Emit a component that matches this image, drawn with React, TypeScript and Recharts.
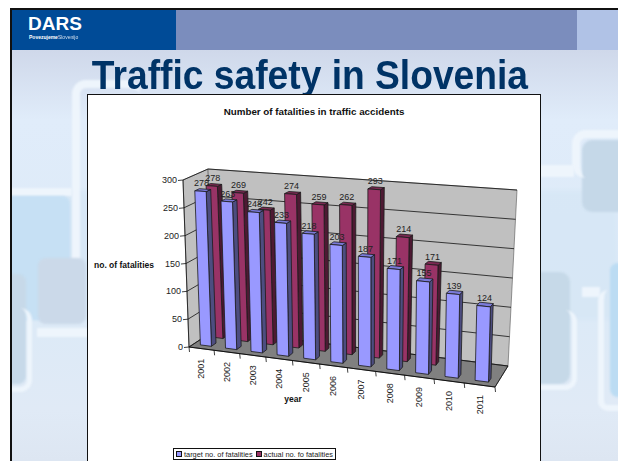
import { Bar, ComposedChart, Customized, LabelList, Legend, XAxis, YAxis } from "recharts";

const years = ["2001", "2002", "2003", "2004", "2005", "2006", "2007", "2008", "2009", "2010", "2011"];
const targetFatalities = [278, 263, 248, 233, 218, 203, 187, 171, 155, 139, 124];
const actualFatalities: (number | null)[] = [278, 269, 242, 274, 259, 262, 293, 214, 171, null, null];
const yTicks = [0, 50, 100, 150, 200, 250, 300];

const data = years.map((year, i) => ({
  year,
  target: targetFatalities[i],
  actual: actualFatalities[i],
}));

const FONT = "'Liberation Sans', Arial, sans-serif";
const TEXT = "#222";

// flat plot rect handed to recharts, its scales get remapped onto the 3D box
const PLOT_LEFT = 100;
const PLOT_TOP = 100;
const PLOT_W = 440;
const PLOT_H = 300;
const PLOT_BOTTOM = PLOT_TOP + PLOT_H;
const BAR_SIZE = 17.6;
const Y_MAX = 300;

type Pt = [number, number];

// corners: front-left, front-right, back-right, back-left
const FLOOR: Pt[] = [[189, 347], [495, 387], [508, 366], [215, 330]];
const CEIL: Pt[] = [[183, 180], [499, 203], [517, 190], [208, 169]];

const homography = (q: Pt[]) => {
  const [[x0, y0], [x1, y1], [x2, y2], [x3, y3]] = q;
  const dx1 = x1 - x2, dx2 = x3 - x2, sx = x0 - x1 + x2 - x3;
  const dy1 = y1 - y2, dy2 = y3 - y2, sy = y0 - y1 + y2 - y3;
  const den = dx1 * dy2 - dx2 * dy1;
  const g = (sx * dy2 - dx2 * sy) / den;
  const h = (dx1 * sy - sx * dy1) / den;
  const a = x1 - x0 + g * x1, b = x3 - x0 + h * x3;
  const d = y1 - y0 + g * y1, e = y3 - y0 + h * y3;
  return (u: number, v: number): Pt => {
    const w = g * u + h * v + 1;
    return [(a * u + b * v + x0) / w, (d * u + e * v + y0) / w];
  };
};

const floorAt = homography(FLOOR);
const ceilAt = homography(CEIL);

const project = (u: number, v: number, t: number): Pt => {
  const f = floorAt(u, v);
  const c = ceilAt(u, v);
  return [f[0] + (c[0] - f[0]) * t, f[1] + (c[1] - f[1]) * t];
};

// chart pixel -> screen pixel
const fromPlot = (px: number, py: number, v: number) =>
  project((px - PLOT_LEFT) / PLOT_W, v, (PLOT_BOTTOM - py) / PLOT_H);

const pts = (list: Pt[]) => list.map((p) => `${p[0].toFixed(1)},${p[1].toFixed(1)}`).join(" ");

const makeBarShape = (v0: number, v1: number, front: string, side: string, top: string) =>
  (props: any) => {
    const { x, y, width, height } = props;
    if (!height || height <= 0) return <g />;
    const x1 = x + width;
    const yb = y + height;
    const stroke = { stroke: "#1a1a1a", strokeWidth: 0.8, strokeLinejoin: "round" as const };
    return (
      <g>
        <polygon points={pts([fromPlot(x1, yb, v0), fromPlot(x1, yb, v1), fromPlot(x1, y, v1), fromPlot(x1, y, v0)])} fill={side} {...stroke} />
        <polygon points={pts([fromPlot(x, y, v0), fromPlot(x1, y, v0), fromPlot(x1, y, v1), fromPlot(x, y, v1)])} fill={top} {...stroke} />
        <polygon points={pts([fromPlot(x, yb, v0), fromPlot(x1, yb, v0), fromPlot(x1, y, v0), fromPlot(x, y, v0)])} fill={front} {...stroke} />
      </g>
    );
  };

const makeBarLabel = (v0: number) => (props: any) => {
  const { x, y, width, value } = props;
  if (value === null || value === undefined) return <g />;
  const [sx, sy] = fromPlot(x + width / 2, y, v0);
  return (
    <text x={sx + 1} y={sy - 5} textAnchor="middle" fontSize={9} fontFamily={FONT} fill={TEXT}>
      {value}
    </text>
  );
};

const YTick = (props: any) => {
  const { y, payload } = props;
  const [sx, sy] = project(0, 0, (PLOT_BOTTOM - y) / PLOT_H);
  return (
    <g>
      <line x1={sx - 5} y1={sy + 0.5} x2={sx} y2={sy} stroke="#111" strokeWidth={0.8} />
      <text x={sx - 6} y={sy + 3} textAnchor="end" fontSize={9} fontFamily={FONT} fill={TEXT}>
        {payload.value}
      </text>
    </g>
  );
};

const XTick = (props: any) => {
  const { x, payload, index } = props;
  const bandW = PLOT_W / years.length;
  const [sx, sy] = project((x - PLOT_LEFT) / PLOT_W, 0, 0);
  const [ex, ey] = project((x + bandW / 2 - PLOT_LEFT) / PLOT_W, 0, 0);
  const [lx, ly] = project(0, 0, 0);
  return (
    <g>
      <line x1={ex} y1={ey} x2={ex + 0.5} y2={ey + 5} stroke="#111" strokeWidth={0.8} />
      {index === 0 && <line x1={lx} y1={ly} x2={lx + 0.5} y2={ly + 5} stroke="#111" strokeWidth={0.8} />}
      <text
        transform={`translate(${sx + 3},${sy + 10}) rotate(-90)`}
        textAnchor="end"
        fontSize={9}
        fontFamily={FONT}
        fill={TEXT}
      >
        {payload.value}
      </text>
    </g>
  );
};

const Box3D = () => {
  const wallLines = yTicks.map((t) => t / Y_MAX);
  return (
    <g>
      <polygon points={pts([project(0, 0, 0), project(0, 1, 0), project(0, 1, 1), project(0, 0, 1)])} fill="#c0c0c0" stroke="#555" strokeWidth={0.6} />
      <polygon points={pts([project(0, 1, 0), project(1, 1, 0), project(1, 1, 1), project(0, 1, 1)])} fill="#c0c0c0" stroke="#555" strokeWidth={0.6} />
      <polygon points={pts([project(0, 0, 0), project(1, 0, 0), project(1, 1, 0), project(0, 1, 0)])} fill="#808080" stroke="#222" strokeWidth={0.6} />
      {wallLines.map((t) => (
        <polyline key={t} points={pts([project(0, 0, t), project(0, 1, t), project(1, 1, t)])} fill="none" stroke="#111" strokeWidth={0.8} />
      ))}
      <line x1={project(0, 0, 0)[0]} y1={project(0, 0, 0)[1]} x2={project(0, 0, 1)[0]} y2={project(0, 0, 1)[1]} stroke="#111" strokeWidth={0.8} />
      <line x1={project(0, 0, 0)[0]} y1={project(0, 0, 0)[1]} x2={project(1, 0, 0)[0]} y2={project(1, 0, 0)[1]} stroke="#111" strokeWidth={1} />
      <line x1={project(1, 0, 0)[0]} y1={project(1, 0, 0)[1]} x2={project(1, 1, 0)[0]} y2={project(1, 1, 0)[1]} stroke="#111" strokeWidth={0.8} />
      <text x={314} y={115} textAnchor="middle" fontSize={9.8} fontWeight={700} fontFamily={FONT} fill="#111">
        Number of fatalities in traffic accidents
      </text>
      <text x={94} y={268} fontSize={8.5} fontWeight={700} fontFamily={FONT} fill="#111">
        no. of fatalities
      </text>
      <text x={293} y={402} textAnchor="middle" fontSize={8.5} fontWeight={700} fontFamily={FONT} fill="#111">
        year
      </text>
    </g>
  );
};

const legendSwatch = (color: string) => (
  <span style={{ flexShrink: 0, boxSizing: "border-box", width: 6, height: 6, background: color, border: "1px solid #111", marginRight: 2 }} />
);

const LegendBox = () => (
  <div
    style={{
      display: "flex",
      alignItems: "center",
      boxSizing: "border-box",
      width: 163,
      height: 12,
      border: "1px solid #111",
      background: "#fff",
      fontFamily: FONT,
      fontSize: 7.4,
      color: TEXT,
      paddingLeft: 2,
      whiteSpace: "nowrap",
      overflow: "hidden",
    }}
  >
    {legendSwatch("#9999ff")}
    <span style={{ marginRight: 3 }}>target no. of fatalities</span>
    {legendSwatch("#993366")}
    <span>actual no. fo fatalities</span>
  </div>
);

const panel = (left: number, top: number, w: number, h: number, bg: string, radius: number | string = 8, extra = {}) => (
  <div style={{ position: "absolute", left, top, width: w, height: h, background: bg, borderRadius: radius, filter: "blur(1px)", ...extra }} />
);

const WHITE_LINE = "#eef5fc";

const Slide = () => (
  <div style={{ position: "absolute", left: 0, top: 0, width: 620, height: 461, background: "#fff", overflow: "hidden" }}>
    <div style={{ position: "absolute", left: 10, top: 8, width: 608, height: 453, background: "#111", overflow: "hidden" }}>
      <div
        style={{
          position: "absolute",
          left: 2,
          top: 2,
          width: 606,
          height: 451,
          overflow: "hidden",
          background: "linear-gradient(180deg,#cfd8ea 40px,#e0ecfa 110px,#dceaf7 300px,#e0eaf6 400px,#dde6f2 451px)",
        }}
      >
        <div style={{ position: "absolute", left: 0, top: 180, width: 606, height: 130, background: "#d4e6f5", opacity: 0.6, filter: "blur(2px)" }} />
        {panel(60, 70, 60, 190, "transparent", 14, { borderTop: `8px solid ${WHITE_LINE}`, borderLeft: `8px solid ${WHITE_LINE}` })}
        {panel(-10, 178, 70, 8, WHITE_LINE, 0)}
        {panel(-10, 186, 68, 124, "#c6e0f4", 8)}
        {panel(26, 248, 48, 66, "#cbd9e9", 8)}
        {panel(-20, 264, 34, 110, "#c7d9e9", 8)}
        {panel(-20, 298, 35, 79, "transparent", 12, { borderRight: `5px solid ${WHITE_LINE}`, borderBottom: `5px solid ${WHITE_LINE}` })}
        {panel(25, 318, 55, 9, WHITE_LINE, 0)}
        {panel(570, 130, 50, 72, "#c5d8e8", 10)}
        {panel(560, 120, 60, 40, "transparent", 14, { borderTop: `8px solid ${WHITE_LINE}`, borderLeft: `8px solid ${WHITE_LINE}` })}
        {panel(528, 155, 34, 12, WHITE_LINE, 0)}
        {panel(500, 262, 58, 112, "#c6d9e8", 10)}
        {panel(500, 300, 60, 75, "transparent", 12, { borderRight: `5px solid ${WHITE_LINE}`, borderBottom: `5px solid ${WHITE_LINE}` })}
        {panel(570, 277, 18, 10, WHITE_LINE, 0)}
        {panel(598, 253, 20, 134, "#bcdcf3", 8)}
        {panel(586, 280, 30, 115, "transparent", 10, { borderLeft: `6px solid ${WHITE_LINE}`, borderBottom: `6px solid ${WHITE_LINE}` })}
      </div>
      <div style={{ position: "absolute", left: 2, top: 2, width: 164, height: 40, background: "#004b97" }} />
      <div style={{ position: "absolute", left: 166, top: 2, width: 401, height: 40, background: "#7b8dbd" }} />
      <div style={{ position: "absolute", left: 567, top: 2, width: 41, height: 40, background: "#b0c2e6" }} />
    </div>
    <div style={{ position: "absolute", left: 28, top: 12, color: "#fff", fontFamily: FONT, fontWeight: 700, fontSize: 19, lineHeight: "24px" }}>DARS</div>
    <div style={{ position: "absolute", left: 29, top: 34, color: "#fff", fontFamily: FONT, fontSize: 5, lineHeight: "7px", whiteSpace: "nowrap" }}>
      <b>Povezujeme</b>
      <span style={{ opacity: 0.8 }}>Slovenijo</span>
    </div>
    <div
      style={{
        position: "absolute",
        left: 0,
        width: 620,
        top: 52,
        textAlign: "center",
        color: "#003366",
        fontFamily: FONT,
        fontWeight: 700,
        fontSize: 40,
        lineHeight: "46px",
        whiteSpace: "nowrap",
        transform: "scaleX(0.93)",
        transformOrigin: "309px 0",
      }}
    >
      Traffic safety in Slovenia
    </div>
    <div style={{ position: "absolute", left: 87, top: 94, width: 452, height: 370, background: "#fff", border: "1px solid #111" }} />
  </div>
);

export default function App() {
  return (
    <div style={{ position: "absolute", left: 0, top: 0, width: 620, height: 461, overflow: "hidden" }}>
      <Slide />
      <div style={{ position: "absolute", left: 0, top: 0 }}>
        <ComposedChart
          width={620}
          height={461}
          data={data}
          margin={{ top: PLOT_TOP, left: PLOT_LEFT - 1, right: 620 - PLOT_LEFT - PLOT_W, bottom: 461 - PLOT_BOTTOM - 1 }}
          barSize={BAR_SIZE}
          barGap={-BAR_SIZE}
        >
          <Customized component={Box3D} />
          <XAxis dataKey="year" height={1} axisLine={false} tickLine={false} tick={XTick} interval={0} />
          <YAxis domain={[0, Y_MAX]} ticks={yTicks} width={1} axisLine={false} tickLine={false} tick={YTick} />
          <Bar dataKey="actual" isAnimationActive={false} shape={makeBarShape(0.62, 0.8, "#993366", "#4d1a33", "#7a2952")}>
            <LabelList dataKey="actual" content={makeBarLabel(0.62)} />
          </Bar>
          <Bar dataKey="target" isAnimationActive={false} shape={makeBarShape(0.17, 0.35, "#9999ff", "#4d4d80", "#7a7ad9")}>
            <LabelList dataKey="target" content={makeBarLabel(0.17)} />
          </Bar>
          <Legend
            layout="horizontal"
            verticalAlign="middle"
            align="center"
            content={<LegendBox />}
            wrapperStyle={{ position: "absolute", left: 173, top: 448, width: 163, height: 12 }}
          />
        </ComposedChart>
      </div>
    </div>
  );
}
